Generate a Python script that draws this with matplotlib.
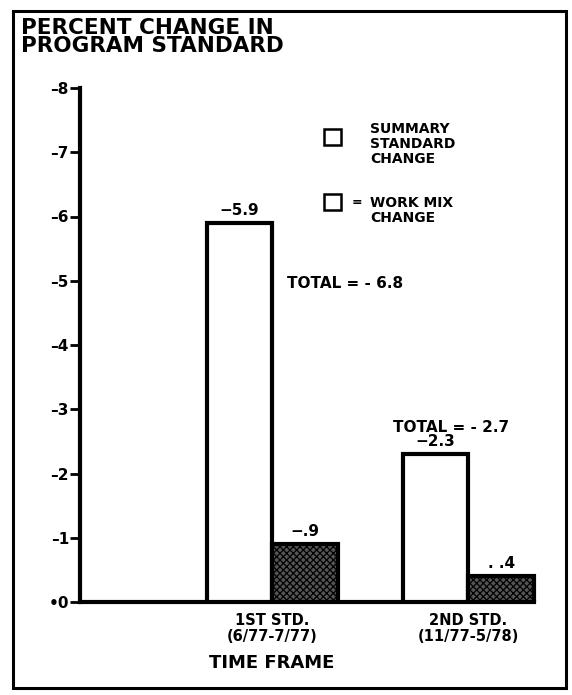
import matplotlib
matplotlib.use("Agg")
import matplotlib.pyplot as plt
from matplotlib.patches import Rectangle

plt.rcParams['font.family'] = ['DejaVu Sans']
plt.rcParams['font.weight'] = 'bold'
plt.rcParams['hatch.linewidth'] = 0.9

# data
groups      = ["1ST STD.\n(6/77-7/77)", "2ND STD.\n(11/77-5/78)"]
summary_chg = [-5.9, -2.3]
workmix_chg = [-0.9, -0.4]
summary_lbl = ["\u22125.9", "\u22122.3"]
workmix_lbl = ["\u2212.9", ". .4"]
totals      = ["TOTAL = - 6.8", "TOTAL = - 2.7"]
yticks      = [0, -1, -2, -3, -4, -5, -6, -7, -8]
ytick_lbls  = ["\u20220"] + ["\u2013%d" % k for k in range(1, 9)]

W, H = 572, 695
fig = plt.figure(figsize=(W / 100, H / 100), dpi=100)

def fx(px): return px / W
def fy(py): return 1 - py / H

# outer frame
fig.patches.append(Rectangle((fx(13), fy(688)), fx(553), (688 - 11) / H, transform=fig.transFigure,
                             fill=False, lw=2.2, ec="black"))

ax = fig.add_axes([fx(80), fy(602), fx(465), (602 - 88) / H])
ax.set_ylim(0, -8)
ax.set_xlim(-0.98, 1.39)

bw = 0.335
x = [0, 1]
ax.bar([i - bw / 2 for i in x], summary_chg, width=bw, color="white", edgecolor="black", linewidth=3, zorder=3)
ax.bar([i + bw / 2 for i in x], workmix_chg, width=bw, color="#555555", edgecolor="black", linewidth=3,
       hatch="xxxxx", zorder=3)

for i in x:
    ax.text(i - bw / 2, summary_chg[i] - 0.08, summary_lbl[i], ha="center", va="bottom", fontsize=11)
    ax.text(i + bw / 2, workmix_chg[i] - 0.08, workmix_lbl[i], ha="center", va="bottom", fontsize=11)

for sp in ["top", "right"]:
    ax.spines[sp].set_visible(False)
ax.spines["left"].set_linewidth(3)
ax.spines["bottom"].set_linewidth(3)
ax.spines["bottom"].set_bounds(-0.98, 1 + bw)

ax.set_yticks(yticks)
ax.set_yticklabels(ytick_lbls, fontsize=11)
ax.tick_params(axis="y", direction="out", length=7, width=2, pad=1)
ax.set_xticks(x)
ax.set_xticklabels(groups, fontsize=10.5, linespacing=1.05)
ax.tick_params(axis="x", length=0, pad=8)

# titles
fig.text(fx(21), fy(18), "PERCENT CHANGE IN\nPROGRAM STANDARD", fontsize=15.5, fontweight="bold",
         va="top", ha="left", linespacing=0.88)
fig.text(fx(272), fy(663), "TIME FRAME", fontsize=13, fontweight="bold", ha="center", va="center")

# legend (both boxes drawn empty in the reference)
for yy in (137, 202):
    fig.patches.append(Rectangle((fx(324), fy(yy + 8)), fx(17), 16 / H, transform=fig.transFigure,
                                 fill=False, lw=1.8, ec="black"))
fig.text(fx(370), fy(122), "SUMMARY\nSTANDARD\nCHANGE", fontsize=10, va="top", ha="left", linespacing=1.1)
fig.text(fx(352), fy(196), "=", fontsize=9, va="top", ha="left")
fig.text(fx(370), fy(196), "WORK MIX\nCHANGE", fontsize=10, va="top", ha="left", linespacing=1.1)

fig.text(fx(287), fy(283), totals[0], fontsize=11, va="center", ha="left")
fig.text(fx(393), fy(428), totals[1], fontsize=11, va="center", ha="left")

fig.savefig("out.png", dpi=100)
